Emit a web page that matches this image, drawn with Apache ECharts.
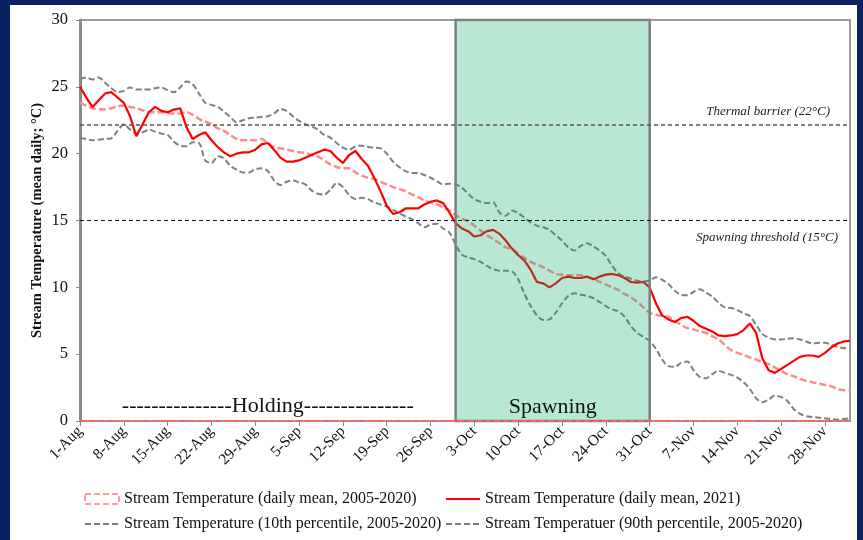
<!DOCTYPE html>
<html lang="en">
<head>
    <meta charset="UTF-8">
    <title>Stream Temperature</title>
    <script src="https://cdn.jsdelivr.net/npm/echarts@6/dist/echarts.min.js"></script>
    <style>
        html, body { margin: 0; padding: 0; background: #0a2262; width: 863px; height: 540px; overflow: hidden; }
        #main { position: absolute; left: 10px; top: 5px; width: 847px; height: 535px; background: #fff; }
    </style>
</head>
<body>
    <div id="main"></div>
    <script type="text/javascript">
        // category labels: 1-Aug .. 2-Dec
        var months = [['Aug', 31], ['Sep', 30], ['Oct', 31], ['Nov', 30], ['Dec', 2]];
        var days = [];
        months.forEach(function (m) {
            for (var d = 1; d <= m[1]; d++) days.push(d + '-' + m[0]);
        });

        var yTicks = [0, 5, 10, 15, 20, 25, 30];
        var thermalBarrier = 22.2;
        var spawnThreshold = 15;

        // daily mean 2005-2020
        var meanHist = [
            23.8, 23.6, 23.4, 23.35, 23.3, 23.4, 23.55, 23.6, 23.5, 23.4,
            23.25, 23.1, 23.1, 23.1, 23.05, 23.0, 23.0, 23.1, 22.9, 22.6,
            22.4, 22.2, 21.9, 21.7, 21.4, 21.1, 21.0, 21.0, 21.0, 21.1,
            20.8, 20.5, 20.4, 20.3, 20.2, 20.1, 20.05, 19.9, 19.8, 19.5,
            19.2, 19.0, 18.9, 18.9, 18.6, 18.35, 18.2, 18.1, 17.9, 17.7,
            17.5, 17.35, 17.2, 16.95, 16.75, 16.5, 16.35, 16.2, 16.0, 15.75,
            15.4, 15.15, 14.95, 14.6, 14.25, 13.9, 13.6, 13.3, 13.0, 12.85,
            12.5, 12.2, 11.9, 11.7, 11.5, 11.25, 11.0, 10.95, 10.9, 10.9,
            10.9, 10.8, 10.65, 10.4, 10.2, 10.0, 9.8, 9.5, 9.25, 8.9,
            8.5, 8.1, 7.95, 7.85, 7.8, 7.5, 7.2, 6.95, 6.85, 6.7,
            6.6, 6.35, 6.1, 5.7, 5.3, 5.1, 4.95, 4.75, 4.6, 4.4,
            4.25, 4.0, 3.75, 3.5, 3.35, 3.15, 3.0, 2.9, 2.8, 2.7,
            2.6, 2.4, 2.3, 2.3
        ];

        // daily mean 2021
        var mean2021 = [
            25.0, 24.2, 23.5, 24.0, 24.5, 24.6, 24.2, 23.8, 22.8, 21.3,
            22.2, 23.1, 23.5, 23.2, 23.1, 23.3, 23.4, 22.0, 21.1, 21.4,
            21.6, 21.0, 20.5, 20.1, 19.8, 20.0, 20.1, 20.1, 20.3, 20.7,
            20.8, 20.3, 19.7, 19.4, 19.4, 19.5, 19.7, 19.9, 20.1, 20.3,
            20.2, 19.7, 19.3, 19.9, 20.2, 19.6, 19.1, 18.2, 17.2, 16.1,
            15.5, 15.6, 15.9, 15.9, 15.9, 16.2, 16.4, 16.5, 16.3, 15.6,
            14.8, 14.4, 14.2, 13.8, 13.9, 14.2, 14.3, 14.0, 13.5, 12.9,
            12.4, 12.0, 11.3, 10.4, 10.3, 10.0, 10.3, 10.7, 10.8, 10.7,
            10.7, 10.8, 10.6, 10.8, 10.95, 11.0, 10.9, 10.7, 10.4, 10.35,
            10.4, 10.0, 8.8, 7.9, 7.6, 7.4, 7.7, 7.8, 7.5, 7.1,
            6.9, 6.7, 6.4, 6.35, 6.4, 6.5, 6.8, 7.3, 6.6, 4.7,
            3.8, 3.6, 3.9, 4.2, 4.5, 4.8, 4.9, 4.9, 4.8, 5.1,
            5.5, 5.8, 5.95, 6.0
        ];

        // 10th percentile 2005-2020
        var p10 = [
            21.15, 21.1, 21.0, 21.05, 21.1, 21.15, 21.7, 22.2, 21.8, 21.5,
            21.6, 21.8, 21.65, 21.5, 21.4, 20.9, 20.6, 20.55, 20.85, 20.8,
            19.5, 19.3, 19.8, 19.65, 19.1, 18.8, 18.6, 18.6, 18.85, 18.9,
            18.7, 18.0, 17.65, 17.9, 18.0, 17.85, 17.7, 17.25, 17.0, 16.95,
            17.3, 17.8, 17.5, 16.9, 16.6, 16.7, 16.6, 16.35, 16.2, 16.05,
            15.8, 15.55, 15.3, 15.1, 14.8, 14.5, 14.7, 14.75, 14.4, 14.1,
            13.2, 12.45, 12.25, 12.1, 11.9, 11.6, 11.35, 11.25, 11.25, 11.2,
            10.6, 9.5, 8.6, 7.9, 7.55, 7.6, 8.1, 8.8, 9.35, 9.55,
            9.45, 9.35, 9.2, 8.9, 8.6, 8.35, 8.2, 7.8, 7.1, 6.6,
            6.3, 6.0, 5.4, 4.6, 4.1, 4.05, 4.35, 4.45, 3.8, 3.3,
            3.2, 3.5, 3.75, 3.6, 3.45, 3.25, 2.9, 2.4, 1.7, 1.4,
            1.6, 1.9, 1.8, 1.5, 0.9, 0.55, 0.35, 0.3, 0.25, 0.2,
            0.15, 0.1, 0.15, 0.2
        ];

        // 90th percentile 2005-2020
        var p90 = [
            25.6, 25.7, 25.55, 25.7, 25.3, 24.9, 24.6, 24.7, 24.95, 24.8,
            24.8, 24.8, 24.9, 24.95, 24.75, 24.6, 24.95, 25.4, 25.2, 24.5,
            23.8, 23.65, 23.5, 23.15, 22.75, 22.35, 22.5, 22.65, 22.7, 22.75,
            22.8, 23.0, 23.35, 23.2, 22.8, 22.45, 22.2, 22.05, 21.8, 21.4,
            21.2, 20.8, 20.45, 20.3, 20.55, 20.6, 20.5, 20.45, 20.4, 20.0,
            19.4, 19.0, 18.7, 18.55, 18.55, 18.4, 18.2, 17.95, 17.7, 17.75,
            17.7, 17.45, 17.0, 16.6, 16.4, 16.3, 16.35, 15.6, 15.35, 15.75,
            15.55, 15.2, 14.85, 14.6, 14.5, 14.3, 13.9, 13.5, 13.0, 12.75,
            13.1, 13.3, 13.05, 12.75, 12.35, 11.6, 11.05, 10.8, 10.65, 10.5,
            10.45, 10.5, 10.75, 10.55, 10.25, 9.75, 9.45, 9.4, 9.65, 9.85,
            9.6, 9.3, 8.85, 8.5, 8.45, 8.3, 8.05, 7.85, 7.2, 6.5,
            6.25, 6.1, 6.1, 6.15, 6.2, 6.1, 5.95, 5.8, 5.85, 5.85,
            5.7, 5.55, 5.45, 5.5
        ];

        var names = [
            'Stream Temperature (daily mean, 2005-2020)',
            'Stream Temperature (daily mean, 2021)',
            'Stream Temperature (10th percentile, 2005-2020)',
            'Stream Temperatuer (90th percentile, 2005-2020)'
        ];

        var serif = '"Liberation Serif", "Times New Roman", serif';
        var chart = echarts.init(document.getElementById('main'));

        var noSymbol = { opacity: 0 };
        var legendText = { fontFamily: serif, fontSize: 16, color: '#111' };

        var option = {
            animation: false,
            textStyle: { fontFamily: serif },
            grid: {
                left: 70, top: 15, right: 7, bottom: 119,
                show: true, borderColor: '#9a9a9a', borderWidth: 2, backgroundColor: '#fff'
            },
            legend: [
                {
                    orient: 'vertical', left: 69, top: 481, itemGap: 9,
                    itemWidth: 34, itemHeight: 10,
                    textStyle: legendText,
                    data: [
                        { name: names[0], icon: 'rect', itemStyle: { color: 'transparent', borderColor: '#ff8080', borderWidth: 1.5, borderType: 'dashed' } },
                        { name: names[2], itemStyle: noSymbol }
                    ]
                },
                {
                    orient: 'vertical', left: 430, top: 481, itemGap: 9,
                    itemWidth: 34, itemHeight: 10,
                    textStyle: legendText,
                    data: [
                        { name: names[1], itemStyle: noSymbol },
                        { name: names[3], itemStyle: noSymbol }
                    ]
                }
            ],
            xAxis: {
                type: 'category',
                data: days,
                boundaryGap: false,
                axisLine: { lineStyle: { color: '#9a9a9a', width: 2 } },
                axisTick: { interval: 6, length: 5, lineStyle: { color: '#8a8a8a' } },
                axisLabel: { interval: 6, rotate: 45, fontSize: 15.5, color: '#111', fontFamily: serif, margin: 8 },
                splitLine: { show: false }
            },
            yAxis: {
                type: 'value',
                min: yTicks[0], max: yTicks[yTicks.length - 1], interval: 5,
                name: 'Stream Temperature (mean daily; °C)',
                nameLocation: 'middle', nameGap: 35, nameMoveOverlap: false,
                nameTextStyle: { fontFamily: serif, fontSize: 14.5, fontWeight: 'bold', color: '#111' },
                axisLine: { show: true, lineStyle: { color: '#8a8a8a', width: 3 } },
                axisTick: { show: true, length: 4, lineStyle: { color: '#8a8a8a' } },
                axisLabel: { fontSize: 16.5, color: '#111', fontFamily: serif, margin: 12 },
                splitLine: { show: false }
            },
            series: [
                {
                    name: names[2], type: 'line', data: p10, symbol: 'none', smooth: 0.3, z: 2,
                    lineStyle: { color: '#7f7f7f', width: 2, type: [6, 3] },
                    itemStyle: { color: '#7f7f7f' }
                },
                {
                    name: names[3], type: 'line', data: p90, symbol: 'none', smooth: 0.3, z: 2,
                    lineStyle: { color: '#7f7f7f', width: 2, type: [6, 3] },
                    itemStyle: { color: '#7f7f7f' }
                },
                {
                    name: names[0], type: 'line', data: meanHist, symbol: 'none', smooth: 0.3, z: 3,
                    lineStyle: { color: '#ff8c8c', width: 2.5, type: [7, 3] },
                    itemStyle: { color: '#ff8c8c' }
                },
                {
                    name: names[1], type: 'line', data: mean2021, symbol: 'none', z: 4,
                    lineStyle: { color: '#ff0000', width: 2.2 },
                    itemStyle: { color: '#ff0000' }
                },
                {
                    // threshold lines, phase boxes and labels
                    name: 'overlay', type: 'line', data: [], z: 6, silent: true,
                    markLine: {
                        symbol: 'none', silent: true, z: 12,
                        data: [
                            {
                                yAxis: thermalBarrier,
                                lineStyle: { color: '#555', width: 1.5, type: [4, 3] },
                                label: {
                                    show: true, position: 'insideEndTop', formatter: 'Thermal barrier (22°C)',
                                    fontStyle: 'italic', fontSize: 13, color: '#222', fontFamily: serif, distance: [20, 6]
                                }
                            },
                            {
                                yAxis: spawnThreshold,
                                lineStyle: { color: '#111', width: 1.2, type: [4, 3] },
                                label: {
                                    show: true, position: 'insideEndBottom', formatter: 'Spawning threshold (15°C)',
                                    fontStyle: 'italic', fontSize: 13, color: '#222', fontFamily: serif, distance: [12, 11]
                                }
                            },
                            {
                                yAxis: 0,
                                lineStyle: { color: '#ff6060', width: 2, type: [6, 3] },
                                label: { show: false }
                            }
                        ]
                    },
                    markArea: {
                        silent: true, z: 10,
                        data: [
                            [
                                {
                                    xAxis: days[0],
                                    itemStyle: { color: 'rgba(0,0,0,0)', borderWidth: 0 },
                                    label: {
                                        show: true, position: 'insideBottom', distance: 4,
                                        formatter: '---------------Holding---------------',
                                        fontSize: 22, color: '#111', fontFamily: serif
                                    }
                                },
                                { xAxis: '30-Sep' }
                            ],
                            [
                                {
                                    xAxis: '30-Sep',
                                    itemStyle: { color: 'rgba(0,170,100,0.28)', borderColor: '#7f7f7f', borderWidth: 2.5 },
                                    label: {
                                        show: true, position: 'insideBottom', distance: 4,
                                        formatter: 'Spawning', fontSize: 22, color: '#111', fontFamily: serif
                                    }
                                },
                                { xAxis: '31-Oct' }
                            ]
                        ]
                    }
                }
            ]
        };

        chart.setOption(option);
    </script>
</body>
</html>
